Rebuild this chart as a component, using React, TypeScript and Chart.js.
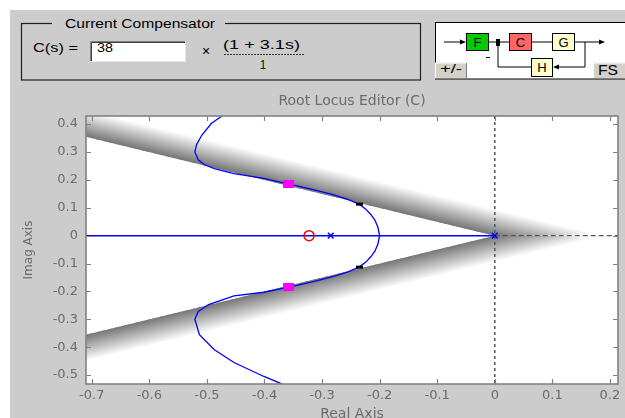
import React, { useEffect, useRef } from 'react';
import { Chart, registerables } from 'chart.js';

Chart.register(...registerables);

// ---- axes ----
const xTickValues = [-0.7, -0.6, -0.5, -0.4, -0.3, -0.2, -0.1, 0, 0.1, 0.2];
const yTickValues = [-0.5, -0.4, -0.3, -0.2, -0.1, 0, 0.1, 0.2, 0.3, 0.4];
const xMin = -0.71;
const xMax = 0.214;
const yMin = -0.532;
const yMax = 0.429;

// ---- root locus data ----
const openLoopPoles = [{ x: 0, y: 0 }, { x: -0.285, y: 0 }];
const openLoopZeros = [{ x: -0.3226, y: 0 }];
const selectedPoles = [{ x: -0.358, y: 0.185 }, { x: -0.358, y: -0.185 }];
const otherPoles = [{ x: -0.235, y: 0.113 }, { x: -0.235, y: -0.113 }];
const realAxisBranch = [{ x: -0.9, y: 0 }, { x: 0, y: 0 }];
const upperBranch = [
  { x: -0.2, y: 0.0 }, { x: -0.203, y: 0.03 }, { x: -0.208, y: 0.055 }, { x: -0.215, y: 0.075 },
  { x: -0.224, y: 0.095 }, { x: -0.235, y: 0.112 }, { x: -0.255, y: 0.13 }, { x: -0.281, y: 0.147 },
  { x: -0.31, y: 0.162 }, { x: -0.338, y: 0.176 }, { x: -0.358, y: 0.185 }, { x: -0.401, y: 0.205 },
  { x: -0.453, y: 0.222 }, { x: -0.487, y: 0.24 }, { x: -0.504, y: 0.254 }, { x: -0.515, y: 0.272 },
  { x: -0.521, y: 0.3 }, { x: -0.518, y: 0.326 }, { x: -0.509, y: 0.36 }, { x: -0.492, y: 0.403 },
  { x: -0.475, y: 0.427 }, { x: -0.463, y: 0.447 },
];
const lowerBranch = [
  { x: -0.2, y: 0.0 }, { x: -0.203, y: -0.03 }, { x: -0.208, y: -0.055 }, { x: -0.215, y: -0.075 },
  { x: -0.224, y: -0.095 }, { x: -0.235, y: -0.112 }, { x: -0.255, y: -0.13 }, { x: -0.281, y: -0.147 },
  { x: -0.31, y: -0.162 }, { x: -0.338, y: -0.176 }, { x: -0.358, y: -0.185 }, { x: -0.401, y: -0.203 },
  { x: -0.453, y: -0.216 }, { x: -0.497, y: -0.247 }, { x: -0.515, y: -0.272 }, { x: -0.521, y: -0.3 },
  { x: -0.513, y: -0.355 }, { x: -0.487, y: -0.409 }, { x: -0.453, y: -0.455 }, { x: -0.401, y: -0.505 },
  { x: -0.372, y: -0.53 }, { x: -0.36, y: -0.545 },
];
// damping constraint: boundary imag = -slope * real; shaded band fades out towards an outer line
const dampingSlope = 0.5;
const dampingOuterSlope = 0.5;
const dampingFadeEnd = 0.19;

const TICK_COLOR = '#6b6b6b';
const CANVAS_FONT = "'DejaVu Sans', sans-serif";
const UI_FONT = "'Liberation Sans', Arial, sans-serif";

const fmt = (v: any) => {
  const r = Math.round(Number(v) * 10) / 10;
  return r === 0 ? '0' : String(r);
};

type Pt = [number, number];
const lerp = (a: Pt, b: Pt, t: number): Pt => [a[0] + (b[0] - a[0]) * t, a[1] + (b[1] - a[1]) * t];

const rlPlugin = {
  id: 'rlDecor',
  beforeDraw(chart: any) {
    const { ctx, chartArea: a } = chart;
    ctx.save();
    ctx.fillStyle = '#ffffff';
    ctx.fillRect(a.left, a.top, a.width, a.height);
    ctx.restore();
  },
  beforeDatasetsDraw(chart: any) {
    const { ctx, chartArea: a, scales } = chart;
    const xs = scales.x;
    const ys = scales.y;
    const px = (x: number, y: number): Pt => [xs.getPixelForValue(x), ys.getPixelForValue(y)];
    ctx.save();
    ctx.beginPath();
    ctx.rect(a.left, a.top, a.width, a.height);
    ctx.clip();
    const far = -1.3;
    for (const s of [1, -1]) {
      const O = px(0, 0);
      const P = px(far, -s * dampingSlope * far);
      const R = px(far, -s * dampingOuterSlope * (far - dampingFadeEnd));
      const Q = px(dampingFadeEnd, 0);
      let dx = P[0] - O[0];
      let dy = P[1] - O[1];
      const L = Math.hypot(dx, dy);
      dx /= L; dy /= L;
      let nx = -dy;
      let ny = dx;
      if ((Q[0] - O[0]) * nx + (Q[1] - O[1]) * ny < 0) { nx = -nx; ny = -ny; }
      ctx.save();
      ctx.beginPath();
      ctx.moveTo(O[0], O[1]);
      ctx.lineTo(P[0], P[1]);
      ctx.lineTo(R[0], R[1]);
      ctx.lineTo(Q[0], Q[1]);
      ctx.closePath();
      ctx.clip();
      const N = 120;
      for (let i = 0; i < N; i++) {
        const t1 = i / N;
        const t2 = Math.min(1, (i + 1.6) / N);
        const tm = (i + 0.5) / N;
        const I1 = lerp(O, P, t1);
        const I2 = lerp(O, P, t2);
        const U1 = lerp(Q, R, t1);
        const U2 = lerp(Q, R, t2);
        const Im = lerp(O, P, tm);
        const Um = lerp(Q, R, tm);
        const w = Math.max(1, (Um[0] - Im[0]) * nx + (Um[1] - Im[1]) * ny);
        const g = ctx.createLinearGradient(Im[0], Im[1], Im[0] + nx * w, Im[1] + ny * w);
        g.addColorStop(0, '#767676');
        g.addColorStop(0.5, '#bababa');
        g.addColorStop(1, '#ffffff');
        ctx.fillStyle = g;
        ctx.beginPath();
        ctx.moveTo(I1[0] - nx * 3, I1[1] - ny * 3);
        ctx.lineTo(I2[0] - nx * 3, I2[1] - ny * 3);
        ctx.lineTo(U2[0] + nx * 3, U2[1] + ny * 3);
        ctx.lineTo(U1[0] + nx * 3, U1[1] + ny * 3);
        ctx.closePath();
        ctx.fill();
      }
      ctx.restore();
    }
    const x0 = xs.getPixelForValue(0);
    const y0 = ys.getPixelForValue(0);
    ctx.strokeStyle = '#555555';
    ctx.lineWidth = 1.5;
    ctx.setLineDash([3, 3]);
    ctx.beginPath();
    ctx.moveTo(x0, a.top);
    ctx.lineTo(x0, a.bottom);
    ctx.stroke();
    ctx.setLineDash([5, 3]);
    ctx.lineWidth = 1.3;
    ctx.beginPath();
    ctx.moveTo(x0, y0);
    ctx.lineTo(a.right, y0);
    ctx.stroke();
    ctx.restore();
  },
  afterDatasetsDraw(chart: any) {
    const { ctx, chartArea: a, scales } = chart;
    ctx.save();
    ctx.strokeStyle = '#828282';
    ctx.lineWidth = 1.6;
    ctx.strokeRect(a.left, a.top, a.width, a.height);
    ctx.lineWidth = 1.2;
    const tl = 5;
    ctx.beginPath();
    for (const v of xTickValues) {
      const p = Math.round(scales.x.getPixelForValue(v)) + 0.5;
      ctx.moveTo(p, a.bottom); ctx.lineTo(p, a.bottom - tl);
      ctx.moveTo(p, a.top); ctx.lineTo(p, a.top + tl);
    }
    for (const v of yTickValues) {
      const p = Math.round(scales.y.getPixelForValue(v)) + 0.5;
      ctx.moveTo(a.left, p); ctx.lineTo(a.left + tl, p);
      ctx.moveTo(a.right, p); ctx.lineTo(a.right - tl, p);
    }
    ctx.stroke();
    ctx.restore();
  },
};

export default function App() {
  const ref = useRef<HTMLCanvasElement>(null);

  useEffect(() => {
    const sq = document.createElement('canvas');
    sq.width = 11;
    sq.height = 8;
    const c2 = sq.getContext('2d')!;
    c2.fillStyle = '#ff00ff';
    c2.fillRect(0, 0, 11, 8);

    const chart = new Chart(ref.current!, {
      type: 'scatter',
      data: {
        datasets: [
          { label: 'Selected poles', data: selectedPoles, pointStyle: sq as any, pointRadius: 5, showLine: false },
          {
            label: 'Closed-loop poles', data: otherPoles, pointStyle: 'line', pointRadius: 3.5,
            pointBorderWidth: 3, borderColor: '#000000', backgroundColor: '#000000', showLine: false,
          },
          {
            label: 'Zeros', data: openLoopZeros, pointStyle: 'circle', pointRadius: 5,
            borderColor: '#ff0000', backgroundColor: 'rgba(0,0,0,0)', pointBorderWidth: 1.5, showLine: false,
          },
          {
            label: 'Poles', data: openLoopPoles, pointStyle: 'crossRot', pointRadius: 4,
            borderColor: '#0000ff', backgroundColor: '#0000ff', pointBorderWidth: 1.5, showLine: false,
          },
          { label: 'Upper', data: upperBranch, showLine: true, borderColor: '#0000ff', borderWidth: 1.3, pointRadius: 0, tension: 0 },
          { label: 'Lower', data: lowerBranch, showLine: true, borderColor: '#0000ff', borderWidth: 1.3, pointRadius: 0, tension: 0 },
          { label: 'Real', data: realAxisBranch, showLine: true, borderColor: '#0000ff', borderWidth: 1.5, pointRadius: 0 },
        ],
      },
      options: {
        responsive: false,
        animation: false,
        events: [],
        layout: { padding: { left: 0, right: 3, top: 0, bottom: 0 } },
        plugins: {
          legend: { display: false },
          tooltip: { enabled: false },
          title: {
            display: true,
            text: 'Root Locus Editor (C)',
            color: TICK_COLOR,
            fullSize: false,
            font: { family: CANVAS_FONT, size: 14, weight: 'normal', lineHeight: 1.2 },
            padding: { top: 4.6, bottom: 6.6 },
          },
        },
        scales: {
          x: {
            type: 'linear',
            position: 'bottom',
            min: xMin,
            max: xMax,
            afterFit: (s: any) => { s.height = 44; },
            afterBuildTicks: (s: any) => { s.ticks = xTickValues.map((v) => ({ value: v })); },
            ticks: {
              color: TICK_COLOR, font: { family: CANVAS_FONT, size: 13 }, padding: 4,
              autoSkip: false, maxRotation: 0, callback: fmt,
            },
            grid: { display: false, drawTicks: false },
            border: { display: false },
            title: {
              display: true, text: 'Real Axis', color: TICK_COLOR,
              font: { family: CANVAS_FONT, size: 14, lineHeight: 1.2 }, padding: { top: 0, bottom: 5.6 },
            },
          },
          y: {
            type: 'linear',
            position: 'left',
            min: yMin,
            max: yMax,
            afterFit: (s: any) => { s.width = 76; },
            afterBuildTicks: (s: any) => { s.ticks = yTickValues.map((v) => ({ value: v })); },
            ticks: {
              color: TICK_COLOR, font: { family: CANVAS_FONT, size: 13 }, padding: 8,
              autoSkip: false, callback: fmt,
            },
            grid: { display: false, drawTicks: false },
            border: { display: false },
            title: {
              display: true, text: 'Imag Axis', color: TICK_COLOR,
              font: { family: CANVAS_FONT, size: 12, lineHeight: 1.2 }, padding: { top: 11.8, bottom: 0 },
            },
          },
        },
      },
      plugins: [rlPlugin],
    } as any);
    return () => chart.destroy();
  }, []);

  const txt = (s: string, x: number, y: number, len: number, size = 13) => (
    <text x={x} y={y} fontSize={size} fontFamily={UI_FONT} textLength={len} lengthAdjust="spacingAndGlyphs" fill="#000">
      {s}
    </text>
  );

  return (
    <div style={{ position: 'absolute', left: 0, top: 0, width: 625, height: 418, overflow: 'hidden', background: '#ffffff' }}>
      <div style={{ position: 'absolute', left: 10, top: 10, width: 615, height: 408, background: '#cccccc' }} />
      <svg width={625} height={90} style={{ position: 'absolute', left: 0, top: 0 }}>
        {/* Current compensator group box */}
        <rect x={21.5} y={23.5} width={399} height={56.5} fill="none" stroke="#1e1e1e" strokeWidth={1.2} />
        <rect x={52} y={16} width={173} height={13} fill="#cccccc" />
        {txt('Current Compensator', 65, 28, 150)}
        {txt('C(s) =', 33, 52, 45)}
        <rect x={90} y={41} width={96} height={21} fill="#ffffff" />
        <path d="M90.5 62 V41.5 H186" stroke="#808080" fill="none" />
        <path d="M91.5 61 V42.5 H185" stroke="#404040" fill="none" />
        <path d="M90 61.5 H185.5 V41" stroke="#e8e8e8" fill="none" />
        {txt('38', 97, 52, 16)}
        <text x={206} y={56} fontSize={14} fontFamily={UI_FONT} textAnchor="middle" fill="#000">×</text>
        {txt('(1 + 3.1s)', 223, 49, 77)}
        <line x1={224} y1={54.5} x2={304} y2={54.5} stroke="#333" strokeDasharray="2 1" />
        {txt('1', 260, 69, 6)}

        {/* Block diagram */}
        <rect x={435.5} y={22.5} width={200} height={56.5} fill="#ffffff" stroke="#000" />
        <g stroke="#000" strokeWidth={1} fill="none">
          <line x1={444} y1={42} x2={462} y2={42} />
          <line x1={489} y1={42} x2={496} y2={42} />
          <line x1={500} y1={42} x2={509} y2={42} />
          <line x1={532} y1={42} x2={552} y2={42} />
          <line x1={575} y1={42} x2={600} y2={42} />
          <polyline points="585,42 585,67 558,67" />
          <polyline points="531,67 498,67 498,46" />
          <line x1={486} y1={57.5} x2={490} y2={57.5} />
        </g>
        <polygon points="466,42 460,39.5 460,44.5" fill="#000" />
        <polygon points="605,42 599,39.5 599,44.5" fill="#000" />
        <polygon points="553,67 559,64.5 559,69.5" fill="#000" />
        <rect x={496} y={39} width={4} height={7} fill="#000" />
        <rect x={466.5} y={33.5} width={22} height={17} fill="#00cc00" stroke="#000" />
        <rect x={509.5} y={33.5} width={22} height={17} fill="#ff6666" stroke="#000" />
        <rect x={552.5} y={33.5} width={22} height={17} fill="#ffffcc" stroke="#000" />
        <rect x={531.5} y={58.5} width={21} height={18} fill="#ffffcc" stroke="#000" />
        <text x={477.5} y={47} fontSize={13} fontFamily={UI_FONT} textAnchor="middle" fill="#000">F</text>
        <text x={520.5} y={47} fontSize={13} fontFamily={UI_FONT} textAnchor="middle" fill="#000">C</text>
        <text x={563.5} y={47} fontSize={13} fontFamily={UI_FONT} textAnchor="middle" fill="#000">G</text>
        <text x={542} y={72} fontSize={13} fontFamily={UI_FONT} textAnchor="middle" fill="#000">H</text>

        {/* buttons */}
        <rect x={435} y={62.5} width={31} height={16} fill="#d4d0c8" />
        <path d="M435.5 78 V63 H466" stroke="#ffffff" fill="none" />
        <path d="M435 78.5 H466.5 V63" stroke="#808080" fill="none" />
        {txt('+/-', 440, 73, 22)}
        <rect x={593} y={62.5} width={40} height={16} fill="#d4d0c8" />
        <path d="M593.5 78 V63 H625" stroke="#ffffff" fill="none" />
        <path d="M593 78.5 H625" stroke="#808080" fill="none" />
        {txt('FS', 598, 75, 20, 14)}
      </svg>
      <canvas
        ref={ref}
        width={615}
        height={340}
        style={{ position: 'absolute', left: 10, top: 88, width: 615, height: 340 }}
      />
    </div>
  );
}
